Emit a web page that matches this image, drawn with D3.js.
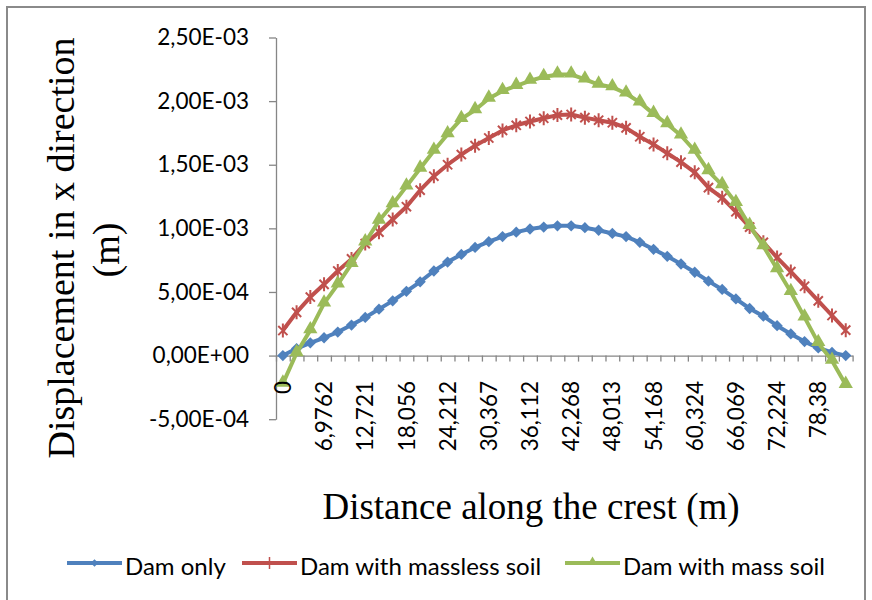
<!doctype html>
<html>
  <head>
    <meta charset="utf-8">
    <title>Displacement in x direction</title>
    <script src="https://cdnjs.cloudflare.com/ajax/libs/d3/7.8.5/d3.min.js"></script>
    <style>
      body { margin: 0; background: #fff; }
      svg { display: block; }
    </style>
  </head>
  <body>
    <div id="chart"></div>

    <script>
      // values, one per category (42 points along the crest)
      const damOnly = [0, 0.55e-4, 1.0e-4, 1.4e-4, 1.85e-4, 2.4e-4, 3.0e-4, 3.65e-4, 4.3e-4, 5.05e-4,
        5.8e-4, 6.65e-4, 7.35e-4, 7.95e-4, 8.5e-4, 8.95e-4, 9.35e-4, 9.7e-4, 9.95e-4, 10.1e-4,
        10.2e-4, 10.2e-4, 10.05e-4, 9.85e-4, 9.6e-4, 9.35e-4, 8.9e-4, 8.35e-4, 7.8e-4, 7.2e-4,
        6.55e-4, 5.85e-4, 5.2e-4, 4.45e-4, 3.7e-4, 3.1e-4, 2.35e-4, 1.7e-4, 1.1e-4, 0.6e-4,
        0.25e-4, 0];
      const masslessSoil = [1.97e-4, 3.4e-4, 4.6e-4, 5.6e-4, 6.65e-4, 7.6e-4, 8.8e-4, 9.7e-4, 10.7e-4, 11.7e-4,
        13.0e-4, 14.1e-4, 15.0e-4, 15.8e-4, 16.5e-4, 17.1e-4, 17.7e-4, 18.1e-4, 18.4e-4, 18.65e-4,
        18.9e-4, 18.95e-4, 18.7e-4, 18.5e-4, 18.3e-4, 17.9e-4, 17.2e-4, 16.6e-4, 15.9e-4, 15.2e-4,
        14.4e-4, 13.2e-4, 12.4e-4, 11.3e-4, 10.1e-4, 8.9e-4, 7.7e-4, 6.6e-4, 5.45e-4, 4.3e-4,
        3.15e-4, 2.0e-4];
      const massSoil = [-2.2e-4, 0.2e-4, 2.0e-4, 4.1e-4, 5.6e-4, 7.2e-4, 8.9e-4, 10.6e-4, 11.9e-4, 13.3e-4,
        14.7e-4, 16.1e-4, 17.4e-4, 18.6e-4, 19.3e-4, 20.2e-4, 20.8e-4, 21.2e-4, 21.6e-4, 21.9e-4,
        22.1e-4, 22.1e-4, 21.7e-4, 21.3e-4, 21.1e-4, 20.6e-4, 19.9e-4, 19.0e-4, 18.2e-4, 17.3e-4,
        16.1e-4, 14.5e-4, 13.4e-4, 12.0e-4, 10.2e-4, 8.6e-4, 6.8e-4, 5.0e-4, 3.0e-4, 1.0e-4,
        -0.4e-4, -2.3e-4];

      // category labels, only every 3rd category gets one
      const xLabels = ['0', '6,9762', '12,721', '18,056', '24,212', '30,367', '36,112',
        '42,268', '48,013', '54,168', '60,324', '66,069', '72,224', '78,38'];
      const labelEvery = 3;
      const yTicks = [-5e-4, 0, 5e-4, 1e-3, 1.5e-3, 2e-3, 2.5e-3];

      const seriesNames = ['Dam only', 'Dam with massless soil', 'Dam with mass soil'];
      const colors = ['#4f81bd', '#c0504d', '#9bbb59'];

      const svg = d3.select('#chart').append('svg')
        .attr('width', 872)
        .attr('height', 600);

      // chart border
      svg.append('rect')
        .attr('x', 7).attr('y', 7)
        .attr('width', 858).attr('height', 600)
        .attr('fill', '#fff')
        .attr('stroke', '#8a8a8a')
        .attr('stroke-width', 2);

      const nCat = damOnly.length;
      const x = d3.scaleLinear().domain([0, nCat]).range([276, 852.6]);
      const y = d3.scaleLinear().domain([-5e-4, 2.5e-3]).range([419.2, 37.5]);
      const cx = i => x(i + 0.5);

      // excel style number: 2,50E-03
      const fmt = v => {
        const [m, e] = v.toExponential(2).split('e');
        const ex = Math.abs(+e).toString().padStart(2, '0');
        return m.replace('.', ',') + 'E' + (+e < 0 ? '-' : '+') + ex;
      };

      const tickFont = 'Lato, "Liberation Sans", sans-serif';

      // y axis
      const yAxis = svg.append('g')
        .attr('transform', 'translate(276,0)')
        .call(d3.axisLeft(y).tickValues(yTicks).tickFormat(fmt).tickSize(7).tickPadding(20).tickSizeOuter(0));
      yAxis.selectAll('path, line').attr('stroke', '#868686').attr('stroke-width', 1.3);
      yAxis.selectAll('text')
        .attr('fill', '#000')
        .style('font-family', tickFont)
        .style('font-size', '22.5px');

      // x axis crosses at 0, ticks sit between categories
      const xAxis = svg.append('g')
        .attr('transform', `translate(0,${y(0)})`)
        .call(d3.axisBottom(x).tickValues(d3.range(nCat + 1)).tickFormat('').tickSize(6).tickSizeOuter(0));
      xAxis.selectAll('path, line').attr('stroke', '#868686').attr('stroke-width', 1.3);

      // series
      const allSeries = [damOnly, masslessSoil, massSoil];
      const line = d3.line().x((d, i) => cx(i)).y(d => y(d));

      const diamond = d3.symbol(d3.symbolSquare, 64);
      const triangle = d3.symbol(d3.symbolTriangle, 88);
      const star = 'M0,-7V7M-4.6,-4.6L4.6,4.6M-4.6,4.6L4.6,-4.6';

      allSeries.forEach((data, s) => {
        const g = svg.append('g');
        g.append('path')
          .datum(data)
          .attr('d', line)
          .attr('fill', 'none')
          .attr('stroke', colors[s])
          .attr('stroke-width', 4)
          .attr('stroke-linejoin', 'round');

        const pts = g.selectAll('.mk').data(data).join('path')
          .attr('class', 'mk');
        if (s === 0) {
          pts.attr('d', diamond)
            .attr('transform', (d, i) => `translate(${cx(i)},${y(d)}) rotate(45)`)
            .attr('fill', colors[s]);
        } else if (s === 1) {
          pts.attr('d', star)
            .attr('transform', (d, i) => `translate(${cx(i)},${y(d)})`)
            .attr('fill', 'none')
            .attr('stroke', colors[s])
            .attr('stroke-width', 2);
        } else {
          pts.attr('d', triangle)
            .attr('transform', (d, i) => `translate(${cx(i)},${y(d) - 1})`)
            .attr('fill', colors[s]);
        }
      });

      // category labels, rotated
      svg.append('g').selectAll('text')
        .data(xLabels)
        .join('text')
        .attr('transform', (d, i) => `translate(${cx(i * labelEvery)},381) rotate(-90)`)
        .attr('dy', '0.36em')
        .attr('text-anchor', 'end')
        .style('font-family', tickFont)
        .style('font-size', '22.5px')
        .text(d => d);

      // axis titles
      const titleFont = '"Liberation Serif", "Times New Roman", serif';
      svg.append('text')
        .attr('transform', 'translate(74,248) rotate(-90)')
        .attr('text-anchor', 'middle')
        .style('font-family', titleFont)
        .style('font-size', '38px')
        .text('Displacement in x direction');
      svg.append('text')
        .attr('transform', 'translate(119,250) rotate(-90)')
        .attr('text-anchor', 'middle')
        .style('font-family', titleFont)
        .style('font-size', '38px')
        .text('(m)');

      svg.append('text')
        .attr('x', 531)
        .attr('y', 519)
        .attr('text-anchor', 'middle')
        .style('font-family', titleFont)
        .style('font-size', '37px')
        .text('Distance along the crest (m)');

      // legend
      const legendX = [67, 242, 565];
      const legendY = 563;
      seriesNames.forEach((name, s) => {
        const g = svg.append('g').attr('transform', `translate(${legendX[s]},${legendY})`);
        g.append('line')
          .attr('x1', 0).attr('x2', 55)
          .attr('stroke', colors[s])
          .attr('stroke-width', 4);
        if (s === 0) {
          g.append('path').attr('d', d3.symbol(d3.symbolSquare, 30))
            .attr('transform', 'translate(27.5,0) rotate(45)')
            .attr('fill', colors[s]);
        } else if (s === 1) {
          g.append('line')
            .attr('x1', 27.5).attr('x2', 27.5)
            .attr('y1', -6).attr('y2', 6)
            .attr('stroke', colors[s])
            .attr('stroke-width', 1.5);
        } else {
          g.append('path').attr('d', d3.symbol(d3.symbolTriangle, 40))
            .attr('transform', 'translate(27.5,-1)')
            .attr('fill', colors[s]);
        }
        g.append('text')
          .attr('x', 58)
          .attr('y', 12)
          .style('font-family', tickFont)
          .style('font-size', '24px')
          .text(name);
      });
    </script>
  </body>
</html>
